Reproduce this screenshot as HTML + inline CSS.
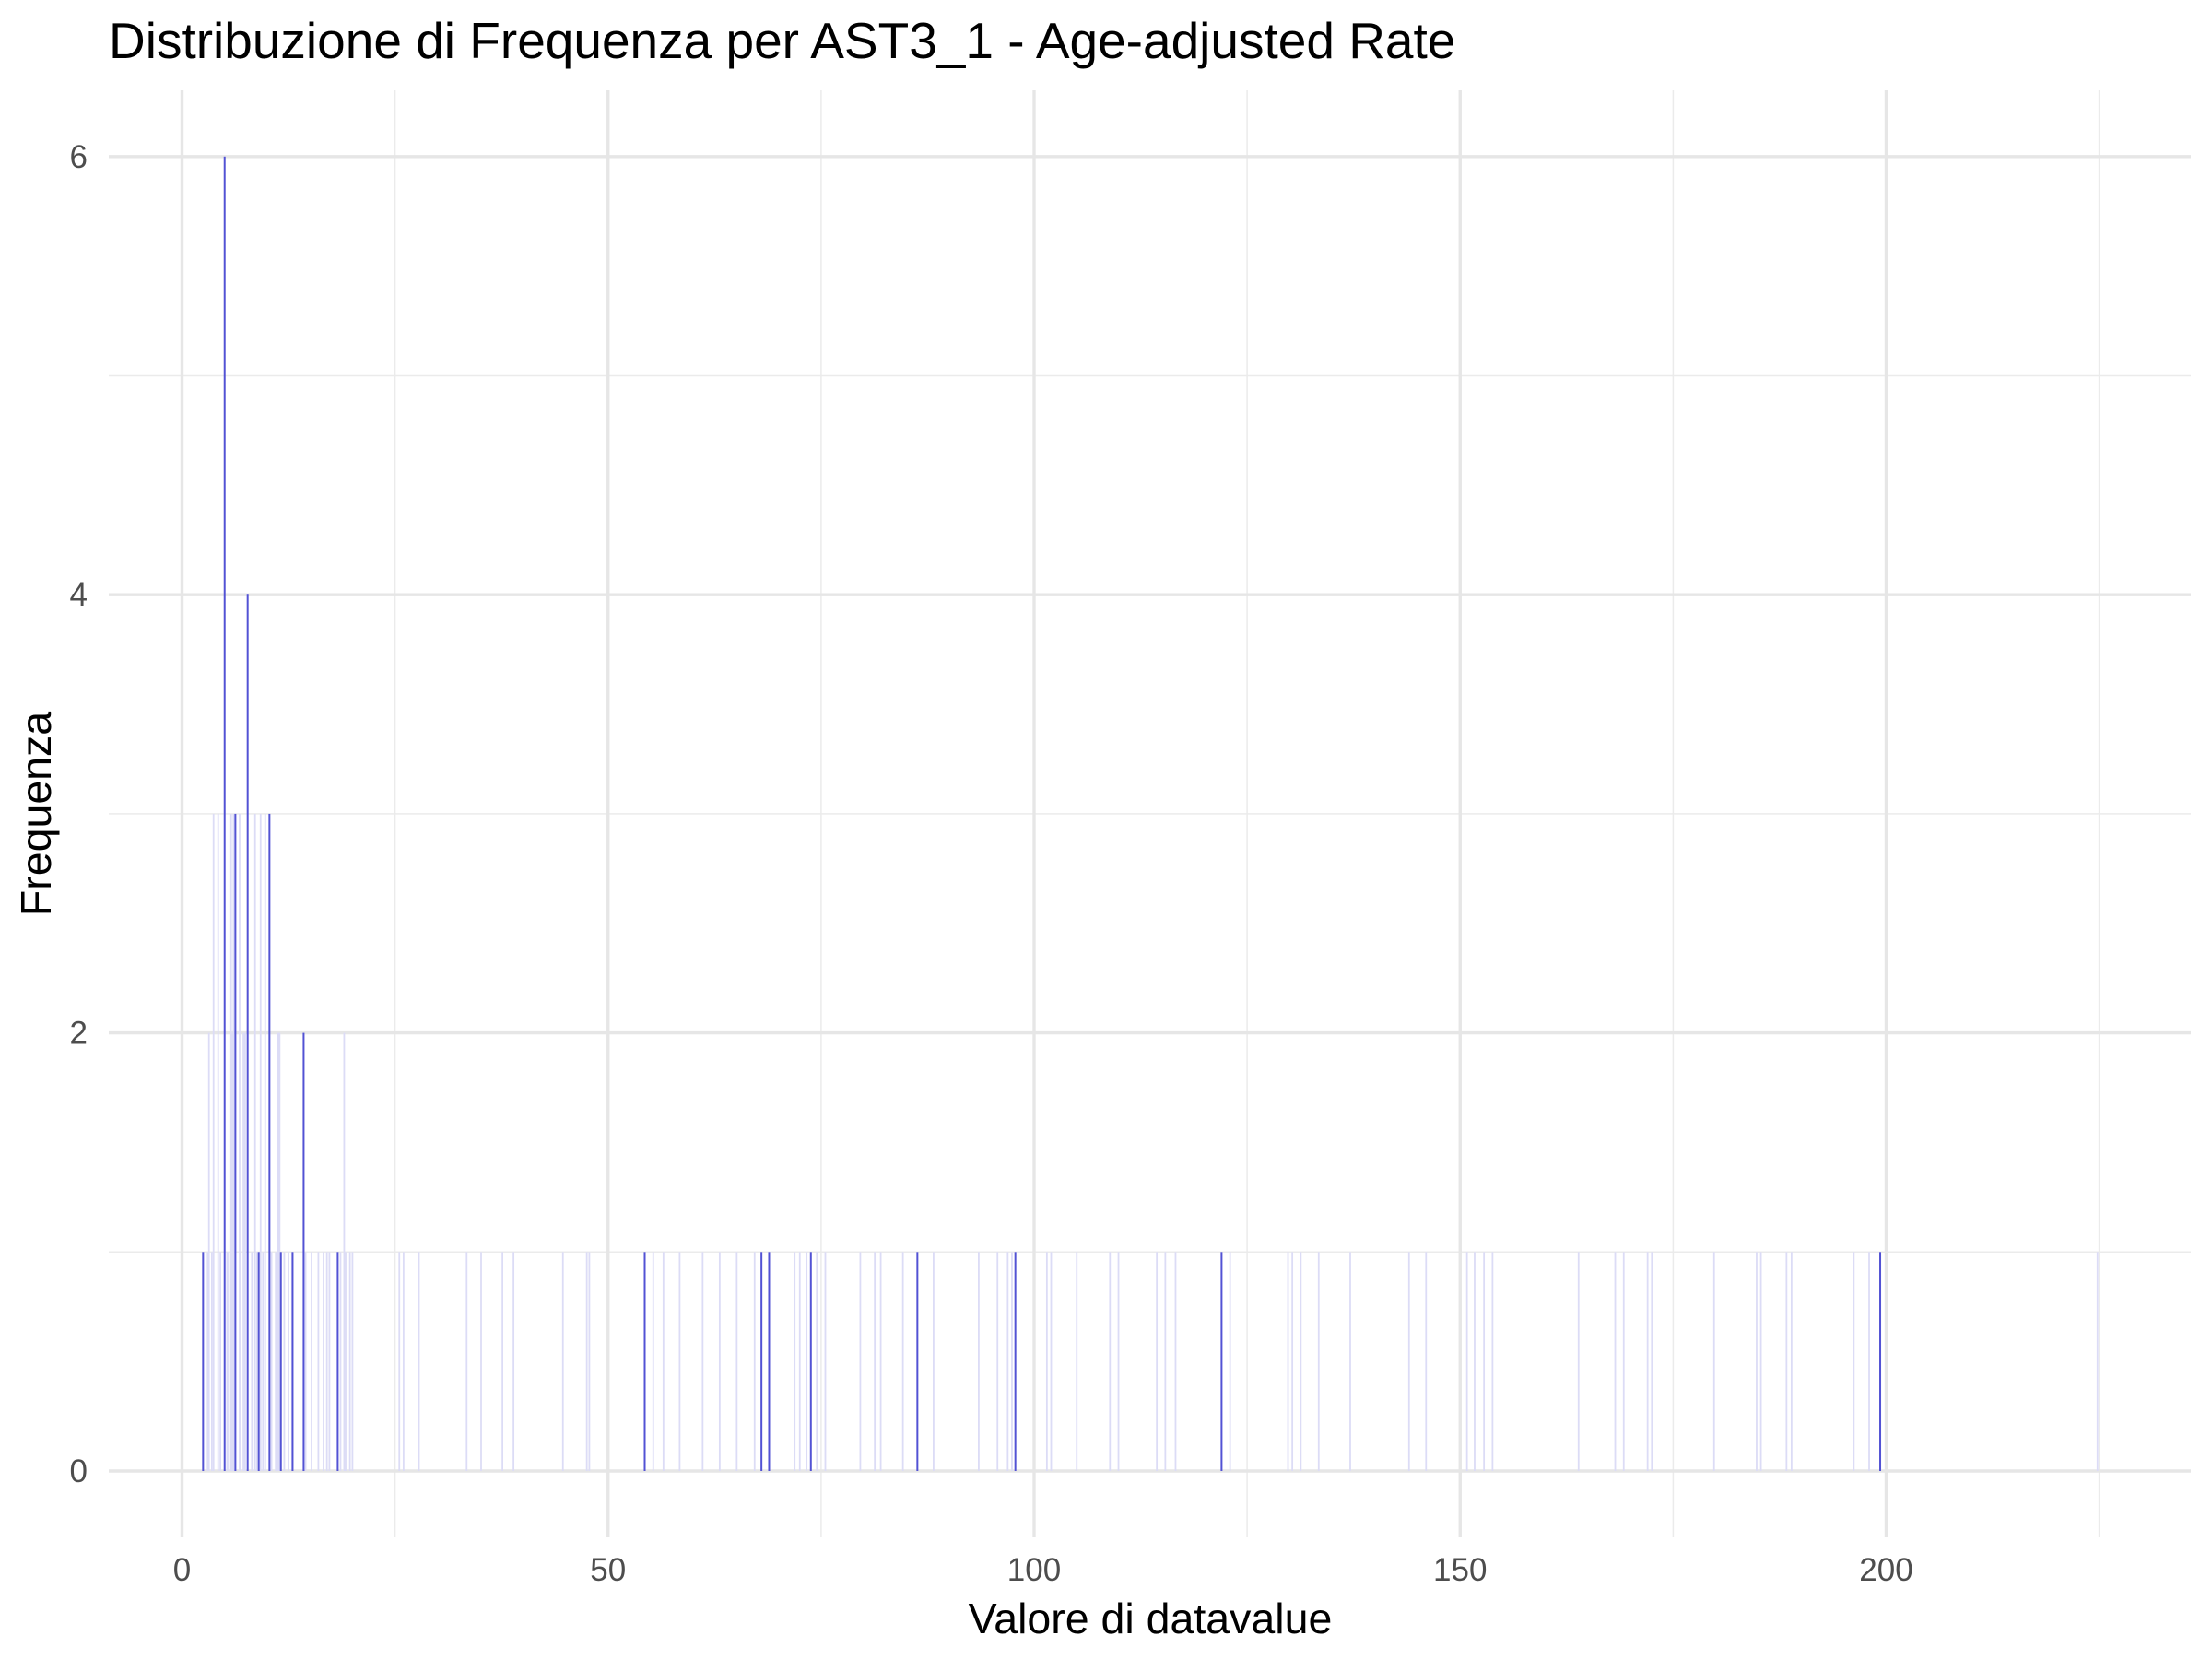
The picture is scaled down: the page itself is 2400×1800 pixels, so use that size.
<!DOCTYPE html>
<html><head><meta charset="utf-8">
<style>
html,body{margin:0;padding:0;background:#fff;}
svg{display:block;font-family:"Liberation Sans",Arial,sans-serif;}
</style></head>
<body>
<svg id="chart" width="2400" height="1800" viewBox="0 0 2400 1800" xmlns="http://www.w3.org/2000/svg">
<text x="118" y="63" font-size="55" fill="#000">Distribuzione di Frequenza per AST3_1 - Age-adjusted Rate</text>
<g id="grid"></g>
<g id="bars"></g>
<g id="ticks"></g>
<text x="1248" y="1772" font-size="46.5" text-anchor="middle" fill="#000">Valore di datavalue</text>
<text x="0" y="0" font-size="46.5" text-anchor="middle" fill="#000" transform="translate(55,883) rotate(-90)">Frequenza</text>
</svg>
<script>
const xTicks=[0,50,100,150,200];
const xMinor=[25,75,125,175,225];
const yTicks=[0,2,4,6];
const yMinor=[1,3,5];
const darkValues=[5.0,7.7,6.26,10.26,14.27,2.47,9.0,11.6,12.97,18.27,54.3,68.0,68.9,73.8,86.3,97.8,122.0,199.3];
const darkCounts=[6,4,3,3,2,1,1,1,1,1,1,1,1,1,1,1,1,1];
const lightValues=[3.7,4.24,5.76,6.04,6.76,8.57,9.22,9.76,3.16,7.4,11.28,11.45,19.03,5.85,5.95,7.2,
3.0,3.5,4.5,5.3,5.5,6.8,8.2,8.8,9.5,10.5,11.0,12.0,12.5,13.0,14.5,15.2,16.0,16.6,17.0,17.3,18.6,19.2,
19.7,20.0,25.5,26.0,27.8,33.4,35.1,37.6,38.9,44.7,47.5,47.8,55.3,56.5,58.4,61.1,63.1,65.1,67.2,71.9,72.5,73.3,74.5,75.5,79.6,81.3,82.0,84.6,88.2,93.5,95.7,96.9,97.4,101.5,102.0,105.0,108.9,109.9,114.4,115.4,116.6,123.0,129.8,130.3,131.3,133.4,137.1,144.0,146.0,150.8,151.7,152.8,153.8,163.9,168.2,169.2,172.0,172.5,179.8,184.8,185.3,188.3,188.9,196.2,198.0,224.8];
const lightCounts=[3,3,3,3,3,3,3,3,2,2,2,2,2,2,2,2,
1,1,1,1,1,1,1,1,1,1,1,1,1,1,1,1,1,1,1,1,1,1,
1,1,1,1,1,1,1,1,1,1,1,1,1,1,1,1,1,1,1,1,1,1,1,1,1,1,1,1,1,1,1,1,1,1,1,1,1,1,1,1,1,1,1,1,1,1,1,1,1,1,1,1,1,1,1,1,1,1,1,1,1,1,1,1,1,1];
const NS='http://www.w3.org/2000/svg';
const L=118,R=2377,T=98,B=1668;
const xs=v=>197.5+v*9.245;
const ys=v=>1596-v*237.7;
function mk(tag,attrs,parent){const e=document.createElementNS(NS,tag);for(const k in attrs)e.setAttribute(k,attrs[k]);parent.appendChild(e);return e;}
const grid=document.getElementById('grid'),bars=document.getElementById('bars'),ticks=document.getElementById('ticks');
yMinor.forEach(v=>{const e=mk('line',{x1:L,x2:R,y1:ys(v),y2:ys(v),stroke:'#ebebeb','stroke-width':1.5},grid);

});
xMinor.forEach(v=>{const e=mk('line',{x1:xs(v),x2:xs(v),y1:T,y2:B,stroke:'#ebebeb','stroke-width':1.5},grid);

});
yTicks.forEach(v=>{const e=mk('line',{x1:L,x2:R,y1:ys(v),y2:ys(v),stroke:'#e6e6e6','stroke-width':3.4},grid);


const t=mk('text',{x:95,y:ys(v)+12,'font-size':35,'text-anchor':'end',fill:'#4d4d4d'},ticks);t.textContent=v;

});
xTicks.forEach(v=>{const e=mk('line',{x1:xs(v),x2:xs(v),y1:T,y2:B,stroke:'#e6e6e6','stroke-width':3.4},grid);


const t=mk('text',{x:xs(v),y:1715,'font-size':35,'text-anchor':'middle',fill:'#4d4d4d'},ticks);t.textContent=v;

});
lightValues.forEach((v,i)=>{const c=lightCounts[i];
const r=mk('rect',{x:xs(v)-0.9,y:ys(c),width:1.8,height:ys(0)-ys(c),fill:'#dcdcf6'},bars);

});
darkValues.forEach((v,i)=>{const c=darkCounts[i];
const r=mk('rect',{x:xs(v)-1,y:ys(c),width:2,height:ys(0)-ys(c),fill:'#5252d4'},bars);

});
</script>
</body></html>
